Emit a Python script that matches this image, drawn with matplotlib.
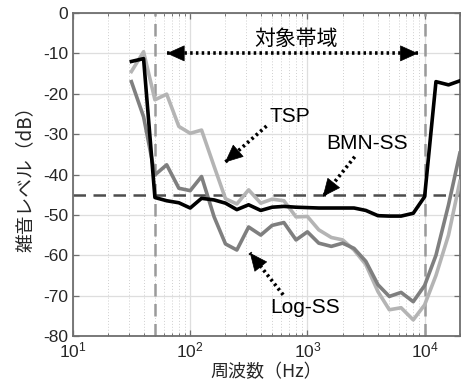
import numpy as np
import matplotlib
matplotlib.use('Agg')
import matplotlib.pyplot as plt

plt.rcParams['font.family'] = ['Liberation Sans', 'Noto Sans CJK JP']
plt.rcParams['mathtext.fontset'] = 'custom'
plt.rcParams['mathtext.rm'] = 'Liberation Sans'
plt.rcParams['axes.unicode_minus'] = False

# 1/3-octave band centre frequencies [Hz]
freq = [31.5, 40, 50, 63, 80, 100, 125, 160, 200, 250, 315, 400, 500, 630,
        800, 1000, 1250, 1600, 2000, 2500, 3150, 4000, 5000, 6300, 8000,
        10000, 12500, 16000, 20000]

# noise level [dB] per band
tsp = [-14.5, -9.6, -21.5, -20.1, -28.1, -29.8, -29.0, -38.0, -46.0, -47.3,
       -43.8, -47.1, -46.1, -46.5, -50.5, -50.4, -53.7, -55.6, -56.2, -58.7,
       -62.3, -69.0, -73.5, -73.0, -76.0, -72.3, -65.0, -55.0, -41.7]
log_ss = [-17.0, -25.7, -40.1, -37.6, -43.4, -44.0, -40.5, -50.5, -57.2, -58.7,
          -53.0, -55.0, -52.6, -51.9, -56.2, -54.2, -57.0, -57.8, -57.0, -58.3,
          -61.5, -67.3, -70.2, -69.2, -71.5, -67.5, -60.0, -47.5, -34.7]
bmn_ss = [-12.0, -11.3, -45.7, -46.5, -47.0, -48.3, -45.9, -46.3, -47.1, -48.7,
          -47.5, -48.9, -48.1, -47.9, -48.1, -48.2, -48.3, -48.3, -48.3, -48.3,
          -48.9, -50.2, -50.3, -50.3, -49.6, -45.5, -17.0, -17.8, -16.8]

band_lo, band_hi = 50, 10000   # target band edges [Hz]
ref_level = -45                # reference level [dB]

fig = plt.figure(figsize=(4.65, 3.88), dpi=100)
ax = fig.add_axes([0.157, 0.134, 0.832, 0.8325])

ax.set_xscale('log')
ax.set_xlim(10, 20000)
ax.set_ylim(-80, 0)
ax.set_yticks(np.arange(-80, 1, 10))
ax.set_xticks([10, 100, 1000, 10000])
ax.set_xticklabels([r'$\mathregular{10^{%d}}$' % k for k in range(1, 5)])

ax.grid(True, which='major', color='#dedede', lw=0.9, ls='-')
ax.grid(True, which='minor', axis='x', color='#cfcfcf', lw=0.7, ls=(0, (1, 2)))
ax.set_axisbelow(True)

ax.tick_params(which='both', direction='in', top=True, right=True,
               colors='#6e6e6e', labelcolor='#262626', labelsize=12.5)
ax.tick_params(which='major', length=4, width=0.9)
ax.tick_params(which='minor', length=2.5, width=0.7)
for s in ax.spines.values():
    s.set_color('#6e6e6e')
    s.set_linewidth(1.3)

# reference lines
ax.axvline(band_lo, color='#9a9a9a', lw=1.8, ls=(0, (5, 3)), zorder=1.5)
ax.axvline(band_hi, color='#9a9a9a', lw=1.8, ls=(0, (5, 3)), zorder=1.5)
ax.axhline(ref_level, color='#4d4d4d', lw=1.8, ls=(0, (5, 3)), zorder=1.6)

ax.plot(freq, tsp, color='#b4b4b4', lw=2.6, zorder=3)
ax.plot(freq, log_ss, color='#7f7f7f', lw=2.6, zorder=3.1)
ax.plot(freq, bmn_ss, color='black', lw=2.6, zorder=3.2)


def dotted_arrow(tip, tail, both=False):
    # dotted shaft drawn as a line, solid heads drawn with annotate
    ax.plot([tail[0], tip[0]], [tail[1], tip[1]], color='black', lw=2.6,
            ls=(0, (0.7, 0.9)), zorder=4)
    head = dict(arrowstyle='-|>,head_length=0.6,head_width=0.27', color='black',
                lw=0.5, mutation_scale=20, shrinkA=0, shrinkB=0)
    ends = [(tip, tail), (tail, tip)] if both else [(tip, tail)]
    for a, b in ends:
        # short stub along the shaft so the head points the right way
        lx, la = np.log10(a[0]), np.log10(b[0])
        bx = 10 ** (lx + 0.05 * (la - lx))
        by = a[1] + 0.05 * (b[1] - a[1])
        ax.annotate('', xy=a, xytext=(bx, by), arrowprops=head, zorder=4.1)


dotted_arrow((63, -10), (8790, -10), both=True)
ax.text(796, -6.4, '対象帯域', ha='center', va='center', fontsize=15,
        family=['Noto Sans CJK JP'], zorder=4)

dotted_arrow((198, -37.0), (448, -28.0))
ax.text(708, -25.7, 'TSP', ha='center', va='center', fontsize=15, zorder=4)

dotted_arrow((1352, -45.5), (2535, -35.6))
ax.text(3206, -32.3, 'BMN-SS', ha='center', va='center', fontsize=15, zorder=4)

dotted_arrow((323, -59.4), (621, -69.8))
ax.text(951, -73.0, 'Log-SS', ha='center', va='center', fontsize=15, zorder=4)

ax.set_xlabel('周波数（Hz）', fontsize=13, color='#262626', labelpad=2,
              family=['Noto Sans CJK JP'])
ax.set_ylabel('雑音レベル（dB）', fontsize=13.5, color='#262626', labelpad=5,
              family=['Noto Sans CJK JP'])

fig.savefig('out.png', dpi=100)
